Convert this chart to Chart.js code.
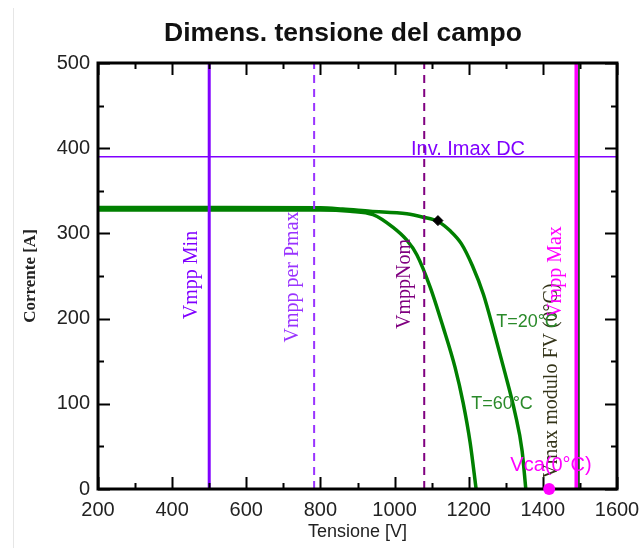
<!DOCTYPE html>
<html lang="it">
<head>
<meta charset="UTF-8">
<title>Dimens. tensione del campo</title>
<script src="https://cdn.jsdelivr.net/npm/chart.js"></script>
<style>
  html, body { margin: 0; padding: 0; background: #fff; }
</style>
</head>
<body>
<canvas id="grafico" width="643" height="548"></canvas>
<script>
// assi
const xTicks = [200, 400, 600, 800, 1000, 1200, 1400, 1600];
const yTicks = [0, 100, 200, 300, 400, 500];

// curve I-V
const volt20 = [200, 500, 800, 860, 934, 1033, 1077, 1117, 1150, 1180, 1210, 1240, 1271, 1298, 1325, 1344, 1354];
const amp20  = [330.5, 330.5, 330, 328.5, 326, 323, 319, 314, 303, 288, 262, 228, 180, 136, 89, 45, 0];
const volt60 = [200, 500, 800, 880, 942, 996, 1033, 1060, 1096, 1131, 1163, 1185, 1204, 1220];
const amp60  = [327.5, 327.5, 327.5, 326, 322, 307, 292, 275, 237, 190, 143, 101, 54, 0];

// limiti dell'inverter / del campo
const vmppMin = 500;
const vmppPmax = 783;
const vmppNom = 1080;
const vmppMax = 1490;
const vmaxModulo = 1497;
const imaxDC = 390;
const puntoMpp = [1117, 315];
const puntoVca = [1417, 0];

const SANS = '"Liberation Sans", Arial, sans-serif';
const SERIF = '"Liberation Serif", "Times New Roman", serif';

function verticale(v) {
  return [{ x: v, y: 0 }, { x: v, y: 500 }];
}
function curva(vs, is) {
  return vs.map((v, i) => ({ x: v, y: is[i] }));
}

// cornice nera con tacche verso l'interno
const cornice = {
  id: 'cornice',
  beforeDatasetsDraw(chart) {
    const { ctx } = chart;
    ctx.save();
    ctx.strokeStyle = '#e6e6e6';
    ctx.lineWidth = 1;
    ctx.beginPath();
    ctx.moveTo(13.5, 8);
    ctx.lineTo(13.5, 548);
    ctx.stroke();
    ctx.fillStyle = '#111';
    ctx.font = 'bold 26.5px ' + SANS;
    ctx.textAlign = 'center';
    ctx.textBaseline = 'middle';
    ctx.fillText('Dimens. tensione del campo', 343, 34);
    ctx.restore();
  },
  afterDatasetsDraw(chart) {
    const { ctx, chartArea: a, scales } = chart;
    const sx = scales.x, sy = scales.y;
    ctx.save();
    ctx.strokeStyle = '#000';
    ctx.lineWidth = 2;
    ctx.beginPath();
    for (let v = 200; v <= 1600; v += 100) {
      const p = Math.round(sx.getPixelForValue(v)) + 0.5;
      const l = v % 200 === 0 ? 12 : 6;
      ctx.moveTo(p, a.bottom); ctx.lineTo(p, a.bottom - l);
      ctx.moveTo(p, a.top); ctx.lineTo(p, a.top + l);
    }
    for (let v = 0; v <= 500; v += 50) {
      const p = Math.round(sy.getPixelForValue(v)) + 0.5;
      const l = v % 100 === 0 ? 12 : 6;
      ctx.moveTo(a.left, p); ctx.lineTo(a.left + l, p);
      ctx.moveTo(a.right, p); ctx.lineTo(a.right - l, p);
    }
    ctx.stroke();
    ctx.lineWidth = 3;
    ctx.strokeRect(a.left, a.top, a.right - a.left, a.bottom - a.top);
    // punto Vca sopra la cornice
    ctx.fillStyle = '#ff00ff';
    ctx.beginPath();
    ctx.arc(sx.getPixelForValue(puntoVca[0]), sy.getPixelForValue(puntoVca[1]), 6, 0, Math.PI * 2);
    ctx.fill();
    ctx.restore();
  }
};

// scritte sul grafico
const scritte = {
  id: 'scritte',
  afterDatasetsDraw(chart) {
    const { ctx, scales } = chart;
    const sx = scales.x, sy = scales.y;
    const ruotato = (txt, x, y, col) => {
      ctx.save();
      ctx.translate(x, y);
      ctx.rotate(-Math.PI / 2);
      ctx.fillStyle = col;
      ctx.font = '20px ' + SERIF;
      ctx.textAlign = 'center';
      ctx.textBaseline = 'middle';
      ctx.fillText(txt, 0, 0);
      ctx.restore();
    };
    ruotato('Vmpp Min', sx.getPixelForValue(vmppMin) - 17, 275, '#8000ff');
    ruotato('Vmpp per Pmax', sx.getPixelForValue(vmppPmax) - 21, 277, '#9933ff');
    ruotato('VmppNom', sx.getPixelForValue(vmppNom) - 19, 284, '#800080');
    ruotato('Vmax modulo FV (0°C)', sx.getPixelForValue(vmaxModulo) - 27, 381, '#333318');
    ruotato('Vmpp Max', sx.getPixelForValue(vmppMax) - 20, 272, '#ff00ff');

    ctx.save();
    ctx.textAlign = 'center';
    ctx.font = '20px ' + SANS;
    ctx.fillStyle = '#8000ff';
    ctx.textBaseline = 'bottom';
    ctx.fillText('Inv. Imax DC', 468, sy.getPixelForValue(imaxDC) + 3);
    ctx.textBaseline = 'middle';
    ctx.font = '18px ' + SANS;
    ctx.fillStyle = '#2a8a2a';
    ctx.fillText('T=20°C', 527, 322);
    ctx.fillText('T=60°C', 502, 404);
    ctx.font = '20px ' + SANS;
    ctx.fillStyle = '#ff00ff';
    ctx.fillText('Vca(0°C)', 551, 465);
    ctx.restore();
  }
};

new Chart(document.getElementById('grafico'), {
  type: 'scatter',
  data: {
    datasets: [
      { data: [{ x: puntoMpp[0], y: puntoMpp[1] }], pointStyle: 'rectRot', pointRadius: 5,
        backgroundColor: '#000', borderColor: '#000' },
      { data: verticale(vmppMax), showLine: true, borderColor: '#ff00ff', borderWidth: 3.5, pointRadius: 0 },
      { data: verticale(vmaxModulo), showLine: true, borderColor: '#1f5a1f', borderWidth: 2, pointRadius: 0 },
      { data: verticale(vmppMin), showLine: true, borderColor: '#8000ff', borderWidth: 3, pointRadius: 0 },
      { data: verticale(vmppPmax), showLine: true, borderColor: '#9933ff', borderWidth: 2, borderDash: [8, 6], pointRadius: 0 },
      { data: verticale(vmppNom), showLine: true, borderColor: '#800080', borderWidth: 2, borderDash: [8, 6], pointRadius: 0 },
      { data: [{ x: 200, y: imaxDC }, { x: 1600, y: imaxDC }], showLine: true, borderColor: '#8000ff', borderWidth: 1.5, pointRadius: 0 },
      { data: curva(volt20, amp20), showLine: true, borderColor: '#008000', borderWidth: 3.5, pointRadius: 0,
        cubicInterpolationMode: 'monotone' },
      { data: curva(volt60, amp60), showLine: true, borderColor: '#008000', borderWidth: 3.5, pointRadius: 0,
        cubicInterpolationMode: 'monotone' }
    ]
  },
  options: {
    responsive: false,
    animation: false,
    layout: { padding: { left: 0, right: 26, top: 63, bottom: 0 } },
    plugins: {
      legend: { display: false },
      tooltip: { enabled: false },
      title: { display: false }
    },
    scales: {
      x: {
        type: 'linear', min: 200, max: 1600,
        afterBuildTicks: s => { s.ticks = xTicks.map(v => ({ value: v })); },
        afterFit: s => { s.height = 59; s.paddingLeft = 0; s.paddingRight = 0; },
        grid: { display: false, drawTicks: false },
        border: { display: false },
        ticks: { color: '#222', font: { family: SANS, size: 20 }, padding: 9, maxRotation: 0,
          callback: v => String(v) },
        title: { display: true, text: 'Tensione [V]', color: '#222',
          font: { family: SANS, size: 18 }, padding: { top: 0, bottom: 5 } }
      },
      y: {
        type: 'linear', min: 0, max: 500,
        afterBuildTicks: s => { s.ticks = yTicks.map(v => ({ value: v })); },
        afterFit: s => { s.width = 98; s.paddingTop = 0; s.paddingBottom = 0; },
        grid: { display: false, drawTicks: false },
        border: { display: false },
        ticks: { color: '#222', font: { family: SANS, size: 20 }, padding: 8,
          callback: v => String(v) },
        title: { display: true, text: 'Corrente [A]', color: '#222',
          font: { family: SERIF, size: 17, weight: 'bold' }, padding: { top: 20, bottom: 0 } }
      }
    }
  },
  plugins: [cornice, scritte]
});
</script>
</body>
</html>
